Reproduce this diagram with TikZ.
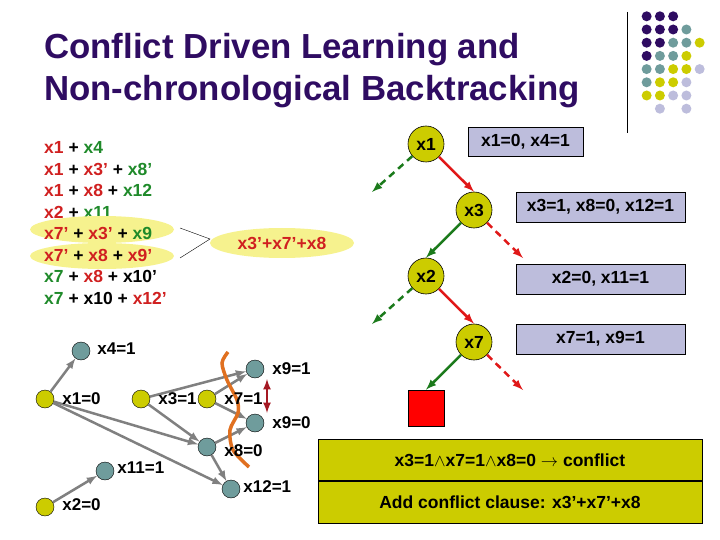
\documentclass[tikz,border=0pt]{standalone}
\usepackage{fontspec}
\setmainfont{Liberation Sans}
\usetikzlibrary{positioning,shapes.geometric}
\definecolor{titlepurple}{HTML}{2F0C62}
\definecolor{dotteal}{HTML}{6F9C9C}
\definecolor{dotyellow}{HTML}{CCCC00}
\definecolor{dotlilac}{HTML}{BDBDDC}
\definecolor{litred}{HTML}{D02020}
\definecolor{litgreen}{HTML}{1F8A2A}
\definecolor{branchred}{HTML}{E01818}
\definecolor{branchgreen}{HTML}{1B7A1B}
\definecolor{paleyellow}{HTML}{F6F28E}
\newcommand{\rl}[1]{\textcolor{litred}{#1}}
\newcommand{\gl}[1]{\textcolor{litgreen}{#1}}
\newcommand{\bodyfont}{\fontsize{17.5}{21.5}\bfseries\selectfont}

\begin{document}
\begin{tikzpicture}[x=1pt,y=-1pt,font=\bodyfont,level distance=66pt,sibling distance=96pt,child anchor=north]
    \tikzstyle{decision}=[circle,draw=black,solid,line width=0.6pt,fill=dotyellow,minimum size=36pt,inner sep=0pt]
    \tikzstyle{leaf}=[rectangle,draw=black,solid,line width=0.6pt,fill=red,minimum size=36pt,inner sep=0pt]
    \tikzstyle{taken}=[draw=branchred,line width=2.5pt,-latex]
    \tikzstyle{flip}=[draw=branchgreen,line width=2.5pt,-latex]
    \tikzstyle{takendash}=[taken,dash pattern=on 7pt off 5pt]
    \tikzstyle{flipdash}=[flip,dash pattern=on 7pt off 5pt]
    \tikzstyle{impliedbox}=[rectangle,draw=black,fill=dotlilac,minimum height=30pt,minimum width=169pt,inner sep=0pt]
    \tikzstyle{seed}=[circle,draw=black,fill=dotyellow,minimum size=18pt,inner sep=0pt]
    \tikzstyle{implied}=[circle,draw=black,fill=dotteal,minimum size=18pt,inner sep=0pt]
    \tikzstyle{imply}=[draw=gray,line width=2.5pt,-latex]
    \tikzstyle{val}=[inner sep=0pt,font=\fontsize{17}{17}\bfseries\selectfont]
    \tikzstyle{halo}=[ellipse,fill=paleyellow,inner sep=0pt]
    \tikzstyle{clausebox}=[rectangle,draw=black,line width=0.8pt,fill=dotyellow,minimum width=384pt,minimum height=41.5pt,inner sep=0pt]
    \useasboundingbox (0,0) rectangle (720,540);

    % title
    \node[anchor=west,align=left,inner sep=0pt,text=titlepurple,font=\fontsize{34.8}{42}\bfseries\selectfont] (title) at (44,71)
      {Conflict Driven Learning and\\Non-chronological Backtracking};

    % corner decoration
    \coordinate (ruletop) at (627,12);
    \coordinate (rulebot) at (627,133);
    \draw[line width=0.8pt] (ruletop) -- (rulebot);
    \foreach \c/\r in {1/1,2/1,3/1,1/2,2/2,3/2,1/3,2/3,1/4}
      \fill[titlepurple] ({633.4+13.25*\c},{3.1+13.2*\r}) circle[radius=5pt];
    \foreach \c/\r in {4/2,3/3,4/3,2/4,3/4,1/5,2/5,1/6}
      \fill[dotteal] ({633.4+13.25*\c},{3.1+13.2*\r}) circle[radius=5pt];
    \foreach \c/\r in {5/3,4/4,3/5,4/5,2/6,3/6,1/7,2/7}
      \fill[dotyellow] ({633.4+13.25*\c},{3.1+13.2*\r}) circle[radius=5pt];
    \foreach \c/\r in {5/5,4/6,3/7,4/7,2/8,4/8}
      \fill[dotlilac] ({633.4+13.25*\c},{3.1+13.2*\r}) circle[radius=5pt];

    % clauses
    \node[anchor=north west,align=left,inner sep=0pt] (upper) at (44,141.5)
      {\rl{x1} + \gl{x4}\\
       \rl{x1} + \rl{x3'} + \gl{x8'}\\
       \rl{x1} + \rl{x8} + \gl{x12}\\
       \rl{x2} + \gl{x11}};
    \node[halo,minimum width=144pt,minimum height=27pt] (halo1) at (102,229.5) {};
    \node[halo,minimum width=144pt,minimum height=26pt] (halo2) at (102,256) {};
    \node[anchor=north west,align=left,inner sep=0pt] (lower) at (44,227.5)
      {\rl{x7'} + \rl{x3'} + \gl{x9}\\
       \rl{x7'} + \rl{x8} + \rl{x9'}\\
       \gl{x7} + \rl{x8} + x10'\\
       \gl{x7} + x10 + \rl{x12'}};
    \node[halo,minimum width=144pt,minimum height=30pt,text=litred] (learnt) at (282,243) {x3'+x7'+x8};
    \coordinate (forka) at (180,228);
    \coordinate (forkb) at (210,239);
    \coordinate (forkc) at (180,258);
    \draw (forka) -- (forkb) -- (forkc);

    % decision tree
    \node[decision] (x1) at (426,144) {x1}
      child[xshift=-6pt,yshift=18pt,child anchor=border] { coordinate (f1) edge from parent[flipdash] }
      child { node[decision] (x3) {x3}
        child { node[decision] (x2) {x2}
          child[xshift=-6pt,yshift=18pt,child anchor=border] { coordinate (f2) edge from parent[flipdash] }
          child { node[decision] (x7) {x7}
            child { node[leaf] (box) {} edge from parent[flip] }
            child[xshift=1pt,yshift=18pt,child anchor=border] { coordinate (f4) edge from parent[takendash] }
            edge from parent[taken] }
          edge from parent[flip] }
        child[xshift=1pt,yshift=18pt,child anchor=border] { coordinate (f3) edge from parent[takendash] }
        edge from parent[taken] };

    % implied values
    \node[impliedbox,minimum width=115pt,minimum height=29pt] (b1) at (525.5,141.5) {x1=0, x4=1};
    \node[impliedbox] (b3) at (600.5,207) {x3=1, x8=0, x12=1};
    \node[impliedbox] (b2) at (600.5,279) {x2=0, x11=1};
    \node[impliedbox] (b7) at (600.5,339) {x7=1, x9=1};

    % implication graph
    \node[implied] (n4) at (81,351) {};
    \node[seed] (n1) at (45,399) {};
    \node[seed] (n3) at (141,399) {};
    \node[seed] (n7) at (207,399) {};
    \node[implied] (n9a) at (255,369) {};
    \node[implied] (n9b) at (255,423) {};
    \node[implied] (n8) at (207,447) {};
    \node[implied] (n11) at (105,471) {};
    \node[implied] (n12) at (231,489) {};
    \node[seed] (n2) at (45,507) {};
    \draw[imply] (n1) -- (n4);
    \draw[imply] (n1) -- (n8);
    \draw[imply] (n1) -- (n12);
    \draw[imply] (n3) -- (n9a);
    \draw[imply] (n3) -- (n8);
    \draw[imply] (n7) -- (n9a);
    \draw[imply] (n7) -- (n9b);
    \draw[imply] (n8) -- (n9b);
    \draw[imply] (n8) -- (n12);
    \draw[imply] (n2) -- (n11);

    % cut
    \draw[color={rgb,255:red,224;green,112;blue,32},line width=3.5pt] plot[smooth] coordinates
      {(228,352) (222,363) (227,380) (237,400) (238,413) (230,430) (233,450) (249,467)};
    \coordinate (clashtop) at (267,379);
    \coordinate (clashbot) at (267,413);
    \draw[color={rgb,255:red,165;green,25;blue,35},line width=2.5pt,latex-latex] (clashtop) -- (clashbot);

    \node[val,right=7pt of n4,yshift=2pt] (l4) {x4=1};
    \node[val,right=8pt of n1] (l1) {x1=0};
    \node[val,right=8pt of n3] (l3) {x3=1};
    \node[val,right=8pt of n7] (l7) {x7=1};
    \node[val,right=8pt of n9a] (l9a) {x9=1};
    \node[val,right=8pt of n9b] (l9b) {x9=0};
    \node[val,right=8pt of n8,yshift=-4pt] (l8) {x8=0};
    \node[val,right=3pt of n11,yshift=3pt] (l11) {x11=1};
    \node[val,right=3pt of n12,yshift=2pt] (l12) {x12=1};
    \node[val,right=8pt of n2,yshift=2pt] (l2) {x2=0};

    % conclusion
    \node[clausebox] (conflict) at (510,460)
      {x3=1\ensuremath{\wedge}x7=1\ensuremath{\wedge}x8=0 \ensuremath{\rightarrow} conflict};
    \node[clausebox,below=0pt of conflict] (added) {Add conflict clause: x3'+x7'+x8};
\end{tikzpicture}
\end{document}
